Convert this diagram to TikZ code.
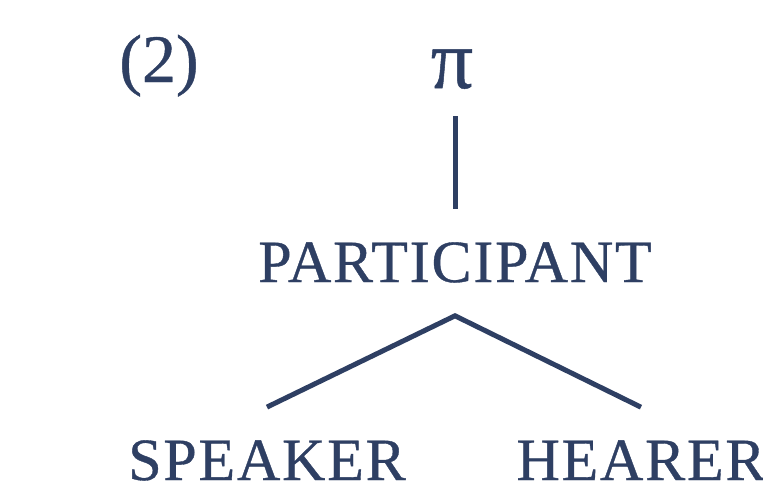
\documentclass[tikz,border=0pt]{standalone}
\usepackage{fontspec}
\setmainfont{Liberation Serif}[FakeBold=0.6]
\newfontfamily\labelfont[LetterSpace=3,FakeBold=0.6]{Liberation Serif}
\definecolor{ink}{HTML}{2E3F63}
\begin{document}
\begin{tikzpicture}[x=1pt,y=-1pt,
  label text/.style={text=ink, inner sep=0pt, anchor=base,
    font=\labelfont\fontsize{60}{60}\selectfont},
  branch/.style={draw=ink, line width=5pt, line join=miter}]
\useasboundingbox (0,0) rectangle (763,491);

% example number and root
\node[text=ink, inner sep=0pt, anchor=base, font=\fontsize{68}{68}\selectfont] (num) at (159,82) {(2)};
\node[text=ink, inner sep=0pt, anchor=base, font=\fontsize{84}{84}\selectfont] (pi) at (452,88) {π};

% feature nodes
\node[label text] (part) at (455,282) {PARTICIPANT};
\node[label text] (sp) at (267,480) {SPEAKER};
\node[label text] (he) at (641,480) {HEARER};

% dependency lines
\draw[branch, shorten <=27pt, shorten >=33pt] (part.north |- pi.south) -- (part.north);
\coordinate (apex) at ([yshift=-33pt]part.south);
\draw[branch] ([yshift=33pt]sp.north) -- (apex) -- ([yshift=33pt]he.north);
\end{tikzpicture}
\end{document}
